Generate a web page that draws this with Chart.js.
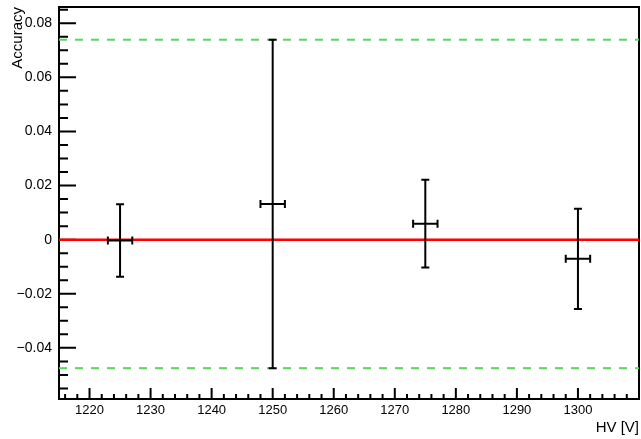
<!DOCTYPE html>
<html>
<head>
<meta charset="utf-8">
<script src="https://cdn.jsdelivr.net/npm/chart.js@4"></script>
<style>
  html, body { margin: 0; padding: 0; background: #fff; }
  canvas { display: block; }
</style>
</head>
<body>
<canvas id="acc-graph" width="641" height="439"></canvas>
<script>
// Measured points (HV in volts, accuracy) ---------------------------------
const hv = [1225, 1250, 1275, 1300];
const hvErr = [2, 2, 2, 2];
const accuracy = [-0.0003, 0.0132, 0.0059, -0.0071];
const accuracyErr = [0.0134, 0.0607, 0.0162, 0.0185];

// Reference lines ---------------------------------------------------------
const zeroLine = [0, 0];
const upperLimit = [0.0739, 0.0739];
const lowerLimit = [-0.0475, -0.0475];

// Axis ranges / tick labels -----------------------------------------------
const xRange = [1215, 1310];
const yRange = [-0.0589, 0.0860];
const xTicks = [1220, 1230, 1240, 1250, 1260, 1270, 1280, 1290, 1300];
const yTicks = [-0.04, -0.02, 0, 0.02, 0.04, 0.06, 0.08];
const xMinor = 2;
const yMinor = 0.005;

const font = "'Liberation Sans', Arial, Helvetica, sans-serif";

function lineData(values) {
    return [{ x: xRange[0], y: values[0] }, { x: xRange[1], y: values[1] }];
}

// Error bars with end caps, drawn through the scales
const errorBars = {
    id: 'errorBars',
    afterDatasetsDraw(chart) {
        const ctx = chart.ctx;
        const xs = chart.scales.x, ys = chart.scales.y;
        ctx.save();
        ctx.strokeStyle = '#000';
        ctx.lineWidth = 2;
        const cap = 4;
        for (let i = 0; i < hv.length; i++) {
            const px = xs.getPixelForValue(hv[i]);
            const py = ys.getPixelForValue(accuracy[i]);
            const x0 = xs.getPixelForValue(hv[i] - hvErr[i]);
            const x1 = xs.getPixelForValue(hv[i] + hvErr[i]);
            const y0 = ys.getPixelForValue(accuracy[i] - accuracyErr[i]);
            const y1 = ys.getPixelForValue(accuracy[i] + accuracyErr[i]);
            ctx.beginPath();
            ctx.moveTo(px, y0); ctx.lineTo(px, y1);
            ctx.moveTo(px - cap, y0); ctx.lineTo(px + cap, y0);
            ctx.moveTo(px - cap, y1); ctx.lineTo(px + cap, y1);
            ctx.moveTo(x0, py); ctx.lineTo(x1, py);
            ctx.moveTo(x0, py - cap); ctx.lineTo(x0, py + cap);
            ctx.moveTo(x1, py - cap); ctx.lineTo(x1, py + cap);
            ctx.stroke();
        }
        ctx.restore();
    }
};

// ROOT-like frame with inward ticks (drawn under the data)
const frame = {
    id: 'frame',
    beforeDatasetsDraw(chart) {
        const ctx = chart.ctx;
        const a = chart.chartArea;
        const xs = chart.scales.x, ys = chart.scales.y;
        ctx.save();
        ctx.strokeStyle = '#000';
        ctx.lineWidth = 2;
        ctx.strokeRect(a.left, a.top, a.right - a.left, a.bottom - a.top);
        ctx.beginPath();
        const eps = 1e-9;
        for (let v = Math.ceil(xs.min / xMinor) * xMinor; v <= xs.max + eps; v += xMinor) {
            const px = xs.getPixelForValue(v);
            const major = xTicks.includes(v);
            ctx.moveTo(px, a.bottom);
            ctx.lineTo(px, a.bottom - (major ? 11 : 5));
        }
        for (let k = Math.ceil(ys.min / yMinor - eps); k * yMinor <= ys.max + eps; k++) {
            const v = k * yMinor;
            const py = ys.getPixelForValue(v);
            const major = k % 4 === 0;
            ctx.moveTo(a.left, py);
            ctx.lineTo(a.left + (major ? 17 : 9), py);
        }
        ctx.stroke();
        ctx.restore();
    }
};

const ctx = document.querySelector('#acc-graph').getContext('2d');

new Chart(ctx, {
    type: 'scatter',
    data: {
        datasets: [
            {
                data: lineData(upperLimit),
                showLine: true,
                borderColor: 'rgb(90, 215, 90)',
                borderWidth: 2,
                borderDash: [8, 8],
                pointRadius: 0
            },
            {
                data: lineData(lowerLimit),
                showLine: true,
                borderColor: 'rgb(90, 215, 90)',
                borderWidth: 2,
                borderDash: [8, 8],
                pointRadius: 0
            },
            {
                data: lineData(zeroLine),
                showLine: true,
                borderColor: 'rgb(255, 0, 0)',
                borderWidth: 2.5,
                pointRadius: 0
            },
            {
                data: hv.map((h, i) => ({ x: h, y: accuracy[i] })),
                pointRadius: 0,
                showLine: false
            }
        ]
    },
    options: {
        responsive: false,
        animation: false,
        layout: { padding: { top: 7, right: 2, left: 0, bottom: 0 } },
        plugins: {
            legend: { display: false },
            tooltip: { enabled: false }
        },
        scales: {
            x: {
                type: 'linear',
                min: xRange[0],
                max: xRange[1],
                grid: { display: false, drawTicks: false },
                border: { display: false },
                afterBuildTicks(scale) {
                    scale.ticks = xTicks.map(v => ({ value: v }));
                },
                afterFit(scale) {
                    scale.height = 40;
                    scale.paddingLeft = 0;
                    scale.paddingRight = 0;
                },
                ticks: {
                    padding: 4,
                    maxRotation: 0,
                    autoSkip: false,
                    color: '#000',
                    font: { family: font, size: 13 },
                    callback: (v) => String(v)
                },
                title: {
                    display: true,
                    text: 'HV [V]',
                    align: 'end',
                    color: '#000',
                    padding: { top: 0, bottom: 2 },
                    font: { family: font, size: 15 }
                }
            },
            y: {
                type: 'linear',
                min: yRange[0],
                max: yRange[1],
                grid: { display: false, drawTicks: false },
                border: { display: false },
                afterBuildTicks(scale) {
                    scale.ticks = yTicks.map(v => ({ value: v }));
                },
                afterFit(scale) {
                    scale.width = 59;
                    scale.paddingTop = 0;
                    scale.paddingBottom = 0;
                },
                ticks: {
                    padding: 7,
                    autoSkip: false,
                    color: '#000',
                    font: { family: font, size: 14 },
                    callback: (v) => {
                        if (Math.abs(v) < 1e-9) return '0';
                        return (v < 0 ? '\u2212' : '') + Math.abs(v).toFixed(2);
                    }
                },
                title: {
                    display: true,
                    text: 'Accuracy',
                    align: 'end',
                    color: '#000',
                    padding: { top: 9, bottom: 0 },
                    font: { family: font, size: 15 }
                }
            }
        }
    },
    plugins: [errorBars, frame]
});
</script>
</body>
</html>
